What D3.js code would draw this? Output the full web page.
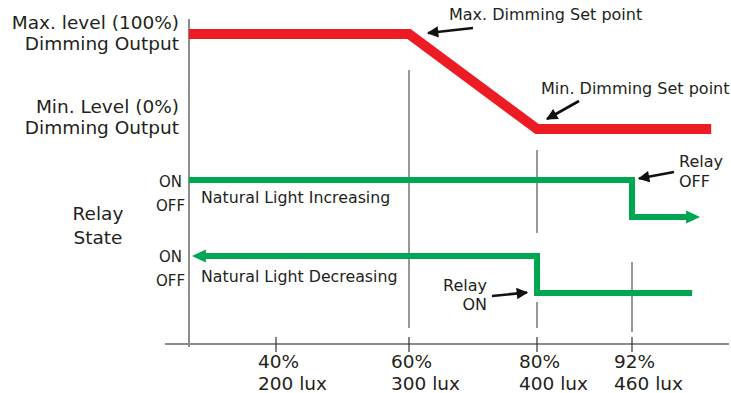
<!DOCTYPE html>
<html><head><meta charset="utf-8">
<script src="https://cdn.jsdelivr.net/npm/d3@7"></script>
<style>
html,body{margin:0;padding:0;background:#fff;}
svg{display:block;font-family:"DejaVu Sans",Verdana,sans-serif;}
</style></head>
<body>
<svg id="c" width="731" height="393"></svg>
<script>
// ---- data ----
const tickPercents = [40, 60, 80, 92];
const tickPercentLabels = ["40%", "60%", "80%", "92%"];
const tickLuxLabels = ["200 lux", "300 lux", "400 lux", "460 lux"];
const xStart = 26.9;           // origin of the light axis (in %)
// Dimming output (% of max) vs natural light (%)
const dimmingX = [xStart, 60, 80, 102];
const dimmingY = [100, 100, 0, 0];
// Relay state (1 = ON, 0 = OFF)
const increasingX = [xStart, 92, 92, 100.6];
const increasingState = [1, 1, 0, 0];
const decreasingX = [xStart, 80, 80, 99.6];
const decreasingState = [1, 1, 0, 0];
const stateLabels = ["ON", "OFF"];
const rowLabels = ["Natural Light Increasing", "Natural Light Decreasing"];

// ---- scales ----
const svg = d3.select("#c");
const x = d3.scaleLinear().domain(tickPercents).range([276, 409, 537, 632]);
const yDim = d3.scaleLinear().domain([0, 100]).range([129, 34]);
const yRow = d3.scaleBand().domain([0, 1]).range([180, 332]).paddingInner(0).paddingOuter(0);
const yState = d3.scaleLinear().domain([1, 0]).range([0, 37]);

const RED = "#ed1c24", GREEN = "#00a651", TXT = "#231f20", AXIS = "#8c8c8c";

// ---- axes ----
const axisY = 344;
svg.append("line").attr("x1", 165).attr("x2", 729).attr("y1", axisY).attr("y2", axisY)
  .attr("stroke", AXIS).attr("stroke-width", 2);
svg.append("line").attr("x1", 189).attr("x2", 189).attr("y1", 19).attr("y2", 347)
  .attr("stroke", AXIS).attr("stroke-width", 2);

// ticks
svg.selectAll(".tk").data(tickPercents).enter().append("line")
  .attr("x1", d => x(d)).attr("x2", d => x(d)).attr("y1", 337).attr("y2", 352)
  .attr("stroke", "#333").attr("stroke-width", 1.2);

// guide lines
const guides = [
  [60, 70, 328],
  [80, 150, 233], [80, 302, 328],
  [92, 262, 332]
];
svg.selectAll(".gd").data(guides).enter().append("line")
  .attr("x1", d => x(d[0])).attr("x2", d => x(d[0])).attr("y1", d => d[1]).attr("y2", d => d[2])
  .attr("stroke", "#333").attr("stroke-width", 1);

// tick labels
tickPercents.forEach((p, i) => {
  const t = svg.append("text").attr("x", x(p) - 18).attr("fill", TXT).attr("font-size", 18.5);
  t.append("tspan").attr("x", x(p) - 18).attr("y", 368).text(tickPercentLabels[i]);
  t.append("tspan").attr("x", x(p) - 18).attr("y", 390).text(tickLuxLabels[i]);
});

// ---- dimming line ----
const line = d3.line();
svg.append("path")
  .attr("d", line(dimmingX.map((v, i) => [x(v), yDim(dimmingY[i])])))
  .attr("fill", "none").attr("stroke", RED).attr("stroke-width", 10)
  .attr("stroke-linejoin", "miter");

// ---- relay lines ----
function relayPts(xs, st, row) {
  return xs.map((v, i) => [x(v), yRow(row) + yState(st[i])]);
}
const inc = relayPts(increasingX, increasingState, 0);
const dec = relayPts(decreasingX, decreasingState, 1);

const incPath = inc.slice(); incPath[incPath.length - 1] = [inc[inc.length - 1][0] - 10, inc[inc.length - 1][1]];
svg.append("path").attr("d", line(incPath)).attr("fill", "none")
  .attr("stroke", GREEN).attr("stroke-width", 6).attr("stroke-linejoin", "miter");
{
  const [tx, ty] = inc[inc.length - 1];
  svg.append("path").attr("d", `M${tx},${ty} L${tx - 14},${ty - 6.5} L${tx - 14},${ty + 6.5} Z`).attr("fill", GREEN);
}
const decPath = dec.slice(); decPath[0] = [dec[0][0] + 12, dec[0][1]];
svg.append("path").attr("d", line(decPath)).attr("fill", "none")
  .attr("stroke", GREEN).attr("stroke-width", 6).attr("stroke-linejoin", "miter");
{
  const [tx, ty] = [dec[0][0] + 3, dec[0][1]];
  svg.append("path").attr("d", `M${tx},${ty} L${tx + 14},${ty - 6.5} L${tx + 14},${ty + 6.5} Z`).attr("fill", GREEN);
}

// ---- left labels ----
function multi(xp, ys, lines, size, anchor) {
  const t = svg.append("text").attr("fill", TXT).attr("font-size", size).attr("text-anchor", anchor);
  lines.forEach((l, i) => t.append("tspan").attr("x", xp).attr("y", ys[i]).text(l));
}
multi(179, [29, 50], ["Max. level (100%)", "Dimming Output"], 18.5, "end");
multi(179, [113, 134], ["Min. Level (0%)", "Dimming Output"], 18.5, "end");
multi(98, [219.5, 243.5], ["Relay", "State"], 18.5, "middle");
multi(170.5, [187, 210.5], stateLabels, 15, "middle");
multi(170.5, [262, 285.5], stateLabels, 15, "middle");
svg.append("text").attr("x", 201).attr("y", 203).attr("fill", TXT).attr("font-size", 15.8).text(rowLabels[0]);
svg.append("text").attr("x", 201).attr("y", 282).attr("fill", TXT).attr("font-size", 15.8).text(rowLabels[1]);

// ---- annotations ----
svg.append("defs").append("marker").attr("id", "ah").attr("viewBox", "0 0 10 10")
  .attr("refX", 9).attr("refY", 5).attr("markerWidth", 5).attr("markerHeight", 4.4)
  .attr("markerUnits", "strokeWidth").attr("orient", "auto")
  .append("path").attr("d", "M0,0 L10,5 L0,10 Z").attr("fill", "#111");
function arrow(x1, y1, x2, y2) {
  svg.append("line").attr("x1", x1).attr("y1", y1).attr("x2", x2).attr("y2", y2)
    .attr("stroke", "#111").attr("stroke-width", 2.6).attr("marker-end", "url(#ah)");
}
svg.append("text").attr("x", 449).attr("y", 20).attr("fill", TXT).attr("font-size", 16).text("Max. Dimming Set point");
arrow(473, 28, 428, 33);
svg.append("text").attr("x", 541).attr("y", 93.5).attr("fill", TXT).attr("font-size", 16).text("Min. Dimming Set point");
arrow(579, 101, 547, 119);
multi(679, [167, 186.5], ["Relay", "OFF"], 16, "start");
arrow(674, 172, 639, 178.5);
multi(487, [290.5, 310], ["Relay", "ON"], 16, "end");
arrow(492, 296, 527, 292.5);
</script>
</body></html>
